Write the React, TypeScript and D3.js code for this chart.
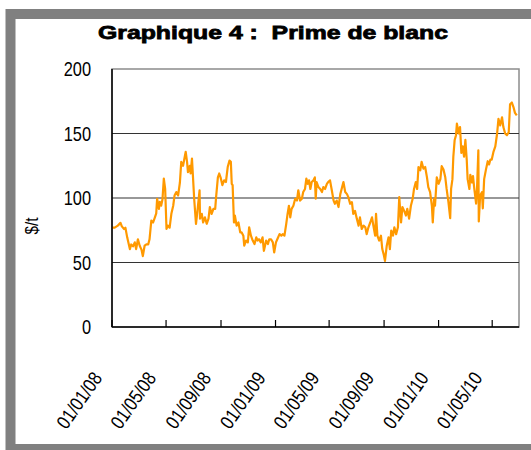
import * as d3 from 'd3'

const W = 531
const H = 450
const M = { left: 112, right: 519, top: 69, bottom: 327 }

const START = new Date(2008, 0, 1)
const END = new Date(2010, 5, 30)

// days since 01/01/08
const DAYS = [
  0, 6, 13, 19, 22, 27, 30, 34, 40, 43, 47, 51, 54, 58, 62, 66, 69, 73, 77, 81, 84, 88, 92, 96, 99,
  101, 105, 107, 110, 113, 116, 119, 122, 125, 129, 133, 137, 140, 144, 148, 152, 155, 159, 165, 168,
  170, 174, 176, 179, 184, 188, 191, 196, 197, 201, 204, 208, 212, 216, 219, 223, 227, 231, 233, 237,
  240, 243, 247, 251, 255, 259, 263, 266, 268, 270, 273, 275, 279, 283, 287, 290, 294, 296, 300, 304,
  307, 311, 315, 319, 323, 326, 329, 333, 337, 340, 345, 349, 352, 356, 360, 363, 367, 370, 375, 379,
  382, 386, 390, 393, 396, 399, 402, 406, 410, 414, 417, 421, 425, 428, 432, 435, 438, 441, 444, 447,
  451, 454, 456, 458, 462, 466, 470, 473, 477, 481, 484, 488, 492, 496, 499, 503, 507, 511, 514, 518,
  522, 526, 529, 533, 537, 540, 544, 548, 552, 555, 559, 563, 567, 570, 574, 578, 582, 585, 589, 591,
  594, 598, 602, 605, 608, 611, 615, 619, 622, 625, 629, 632, 636, 640, 643, 647, 650, 654, 658, 661,
  665, 669, 673, 676, 680, 683, 686, 690, 693, 697, 701, 705, 708, 712, 716, 718, 721, 723, 727, 731,
  735, 738, 742, 746, 749, 753, 757, 759, 762, 764, 767, 770, 772, 776, 779, 782, 785, 788, 791, 794,
  796, 800, 802, 806, 808, 811, 815, 817, 820, 821, 824, 828, 830, 833, 837, 841, 844, 847, 850, 854,
  858, 862, 865, 869, 873, 876, 880, 884, 888, 891, 895, 899, 902, 906,
]

// $/t
const PRIME = [
  77, 77, 78.6, 80.7, 78, 76, 77, 69.5, 60.4, 64, 62.5, 65.6, 60.4, 68, 63, 60, 55, 63, 64, 64, 68, 82.5, 81, 85, 88,
  99.4, 91.6, 97, 94, 99, 115, 107, 76, 78.6, 77, 88, 94, 102, 104.6, 102, 112, 128, 125, 135.8, 128,
  120, 125, 119, 130.6, 99, 80, 89, 106, 84, 87.7, 81, 85, 80, 84, 93, 87.7, 91.6, 91.6, 100.7, 116,
  119, 116, 110, 113.7, 112.4, 124, 129, 128, 111, 110, 81, 86.4, 78.6, 81, 73.4, 73.4, 70.8, 63, 67, 65.6,
  77.3, 70.8, 67, 64.3, 69.5, 67, 68, 65.6, 69.5, 59, 67, 64.3, 68, 68, 65.6, 57.8, 65.6, 68, 72, 70.8,
  72, 70.8, 80, 87.7, 94, 85, 91.6, 94, 99.4, 98, 106, 98, 99.4, 104.6, 107, 115, 111, 113.7, 107, 112.4,
  113.7, 116, 99.4, 112.4, 108.5, 107, 104.6, 108.5, 107, 111, 112.4, 113.7, 106, 98, 95.5, 98, 93, 103, 107, 112.4,
  104.6, 103, 100.7, 95.5, 96.8, 87.7, 90, 84, 78.6, 85, 76, 78.6, 77.3, 72, 77.3, 81, 85, 78.6, 70.8, 87.7,
  70.8, 67, 70.8, 60.4, 56.5, 51.3, 63, 69.5, 60.4, 74.7, 70.8, 77.3, 72, 77.3, 100.7, 81, 93, 90, 86.4, 91.6,
  84, 94, 99.4, 107, 112.4, 107, 124, 121.5, 128, 122.8, 124, 116, 108.5, 104.6, 94, 81, 99.4, 94, 116, 111,
  114.6, 124.7, 122, 116, 107, 97, 84.3, 107, 114.6, 132, 145, 148.7, 157.6, 150, 155, 135, 140, 132, 145, 129.8,
  114.6, 107, 118, 112, 117, 107, 95.7, 107, 137, 81.8, 102, 104.5, 92, 114.6, 122, 128.5, 126, 129.8, 129.8, 136,
  140, 150, 161.4, 156.3, 162.6, 155, 150, 148.7, 151, 172.7, 174, 170, 166, 164,
]

const Y_TICKS = [0, 50, 100, 150, 200]
const X_TICKS = ['2008-01-01', '2008-05-01', '2008-09-01', '2009-01-01', '2009-05-01', '2009-09-01', '2010-01-01', '2010-05-01']
const X_LABELS = ['01/01/08', '01/05/08', '01/09/08', '01/01/09', '01/05/09', '01/09/09', '01/01/10', '01/05/10']

const FONT = 'Liberation Sans, Arial, sans-serif'

export default function App() {
  const x = d3.scaleTime().domain([START, END]).range([M.left, M.right])
  const y = d3.scaleLinear().domain([0, 200]).range([M.bottom, M.top])

  const pts = DAYS.map((d, i) => ({ date: d3.timeDay.offset(START, d), v: PRIME[i] }))
  const line = d3
    .line<{ date: Date; v: number }>()
    .x((p) => x(p.date))
    .y((p) => y(p.v))

  const ticks = X_TICKS.map((s) => d3.timeParse('%Y-%m-%d')(s) as Date)

  return (
    <div style={{ position: 'fixed', left: 0, top: 0 }}>
      <svg width={W} height={H} style={{ display: 'block', background: '#fff' }}>
        {/* frame */}
        <rect x={10.5} y={14} width={600} height={435} fill="none" stroke="#808080" strokeWidth={10} />

        <text
          x={273}
          y={39}
          textAnchor="middle"
          fontFamily={FONT}
          fontWeight="bold"
          fontSize={19}
          stroke="#000"
          strokeWidth={0.8}
          textLength={350}
          lengthAdjust="spacingAndGlyphs"
          style={{ whiteSpace: 'pre' }}
        >
          Graphique 4 :  Prime de blanc
        </text>

        {/* plot frame */}
        <rect x={M.left} y={M.top} width={M.right - M.left} height={M.bottom - M.top} fill="none" stroke="#8c8c8c" strokeWidth={1.5} />

        {Y_TICKS.filter((t) => t > 0 && t < 200).map((t) => (
          <line key={t} x1={M.left} x2={M.right} y1={y(t)} y2={y(t)} stroke="#333" strokeWidth={1.2} />
        ))}

        {Y_TICKS.map((t) => (
          <text
            key={'l' + t}
            transform={`translate(91,${y(t) + 7}) scale(0.82,1)`}
            textAnchor="end"
            fontFamily={FONT}
            fontSize={20}
            fill="#000"
          >
            {t}
          </text>
        ))}

        <text transform={`translate(38,226) rotate(-90) scale(0.85,1)`} textAnchor="middle" fontFamily={FONT} fontSize={18}>
          $/t
        </text>

        <path d={line(pts) ?? ''} fill="none" stroke="#ff9900" strokeWidth={2.2} strokeLinejoin="round" />

        {/* axes */}
        <line x1={M.left} x2={M.left} y1={M.top} y2={M.bottom} stroke="#000" strokeWidth={1.5} />
        <line x1={M.left} x2={M.right} y1={M.bottom} y2={M.bottom} stroke="#000" strokeWidth={1.5} />

        {ticks.map((t, i) => (
          <g key={X_LABELS[i]}>
            <line x1={x(t)} x2={x(t)} y1={M.bottom} y2={M.bottom - 7} stroke="#000" strokeWidth={1.2} />
            <text
              transform={`translate(${x(t) - 9},378) rotate(-55) scale(0.84,1)`}
              textAnchor="end"
              fontFamily={FONT}
              fontSize={19.5}
            >
              {X_LABELS[i]}
            </text>
          </g>
        ))}
      </svg>
    </div>
  )
}
